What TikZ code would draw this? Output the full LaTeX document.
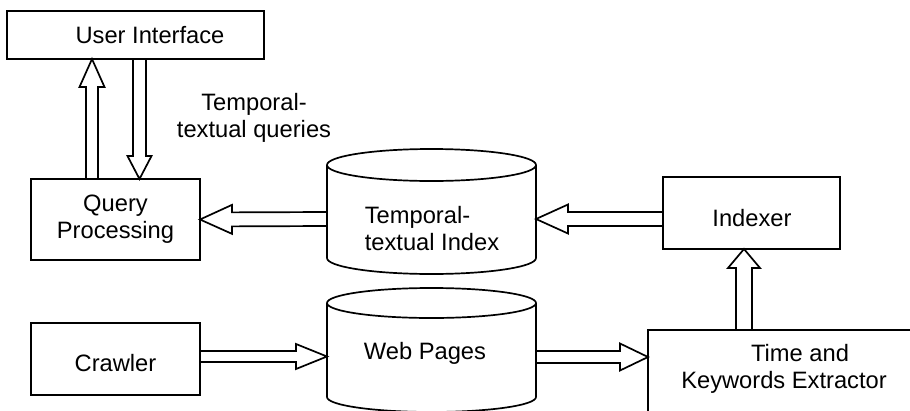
\documentclass[tikz,border=0pt]{standalone}
\usepackage{fontspec}
\setmainfont{Liberation Sans}
\usetikzlibrary{calc}
\pgfdeclarelayer{background}
\pgfsetlayers{background,main}

% hollow block arrow: #1 shaft half-width, #2 head half-width, #3 head length,
% #4 start point, #5 tip point
\newcommand\fatarrow[5]{%
  \coordinate (fatA) at (#4);
  \coordinate (fatB) at (#5);
  \coordinate (fatC) at ($(fatB)!#3pt!(fatA)$);
  \filldraw[blockarrow]
    ($(fatA)!#1pt!90:(fatB)$) -- ($(fatC)!#1pt!90:(fatB)$)
    -- ($(fatC)!#2pt!90:(fatB)$) -- (fatB)
    -- ($(fatC)!#2pt!-90:(fatB)$) -- ($(fatC)!#1pt!-90:(fatB)$)
    -- ($(fatA)!#1pt!-90:(fatB)$);
}

\tikzset{
  outline/.style={line width=1.7pt, line join=miter},
  box/.style={outline, draw, rectangle, inner sep=0pt, outer sep=0pt, align=center},
  dbshape/.style={rectangle, inner sep=0pt, outer sep=0pt},
  blockarrow/.style={outline, draw=black, fill=white},
}

\begin{document}
\begin{tikzpicture}[x=1pt, y=1pt, font=\fontsize{23.7pt}{27pt}\selectfont]
\useasboundingbox (0,0) rectangle (910,-410);
\clip (0,0) rectangle (910,-410);

% boxes
\node[box, minimum width=257pt, minimum height=48pt,
      label={[xshift=14.5pt]center:User Interface}] (ui) at (135.5,-35) {};
\node[box, minimum width=169pt, minimum height=81pt] (qp) at (115.5,-219.5) {Query\\Processing};
\node[box, minimum width=169pt, minimum height=72pt,
      label={[yshift=-4pt]center:Crawler}] (cr) at (115.5,-359) {};
\node[box, minimum width=177pt, minimum height=72pt] (ix) at (751.5,-213) {};
\node (ixtext) at (752,-218) {Indexer};
\node[box, minimum width=312pt, minimum height=130pt] (ex) at (804,-395) {};
\node[align=center] (extext) at (784,-368.5) {\hspace*{32pt}Time and\\Keywords Extractor};

% databases
\node[dbshape, minimum width=209pt, minimum height=125pt] (tti) at (431.5,-211.5) {};
\draw[outline] ([yshift=-16pt]tti.north) ellipse [x radius=104.5pt, y radius=16pt];
\draw[outline] ([yshift=-16pt]tti.north west) -- ([yshift=16pt]tti.south west)
  arc[start angle=180, end angle=360, x radius=104.5pt, y radius=16pt]
  -- ([yshift=-16pt]tti.north east);
\node[align=left] (ttitext) at (432,-228.5) {Temporal-\\textual Index};

\node[dbshape, minimum width=209pt, minimum height=124pt] (wp) at (431.5,-350) {};
\draw[outline] ([yshift=-15pt]wp.north) ellipse [x radius=104.5pt, y radius=15pt];
\draw[outline] ([yshift=-15pt]wp.north west) -- ([yshift=15pt]wp.south west)
  arc[start angle=180, end angle=360, x radius=104.5pt, y radius=15pt]
  -- ([yshift=-15pt]wp.north east);
\node (wptext) at (425,-353) {Web Pages};

% query label
\node[align=center] (qlabel) at (254,-118) {Temporal-\\textual queries};

% data flow
\begin{pgfonlayer}{background}
\fatarrow{6}{12.5}{28}{[xshift=-23.5pt]qp.north}{[xshift=-43.5pt]ui.south}
\fatarrow{6.5}{12}{23}{[xshift=4pt]ui.south}{[xshift=24pt]qp.north}
\fatarrow{7}{14.5}{32}{[yshift=-7.5pt]tti.west}{qp.east}
\fatarrow{7}{14.5}{32}{[yshift=-6pt]ix.west}{[yshift=-7.5pt]tti.east}
\fatarrow{5.5}{12.5}{31}{[yshift=2.5pt]cr.east}{[yshift=-6.5pt]wp.west}
\fatarrow{6}{13.5}{28}{[yshift=-7pt]wp.east}{[yshift=38pt]ex.west}
\fatarrow{8}{16}{19}{[xshift=-60pt]ex.north}{[xshift=-7.5pt]ix.south}
\end{pgfonlayer}
\end{tikzpicture}
\end{document}
